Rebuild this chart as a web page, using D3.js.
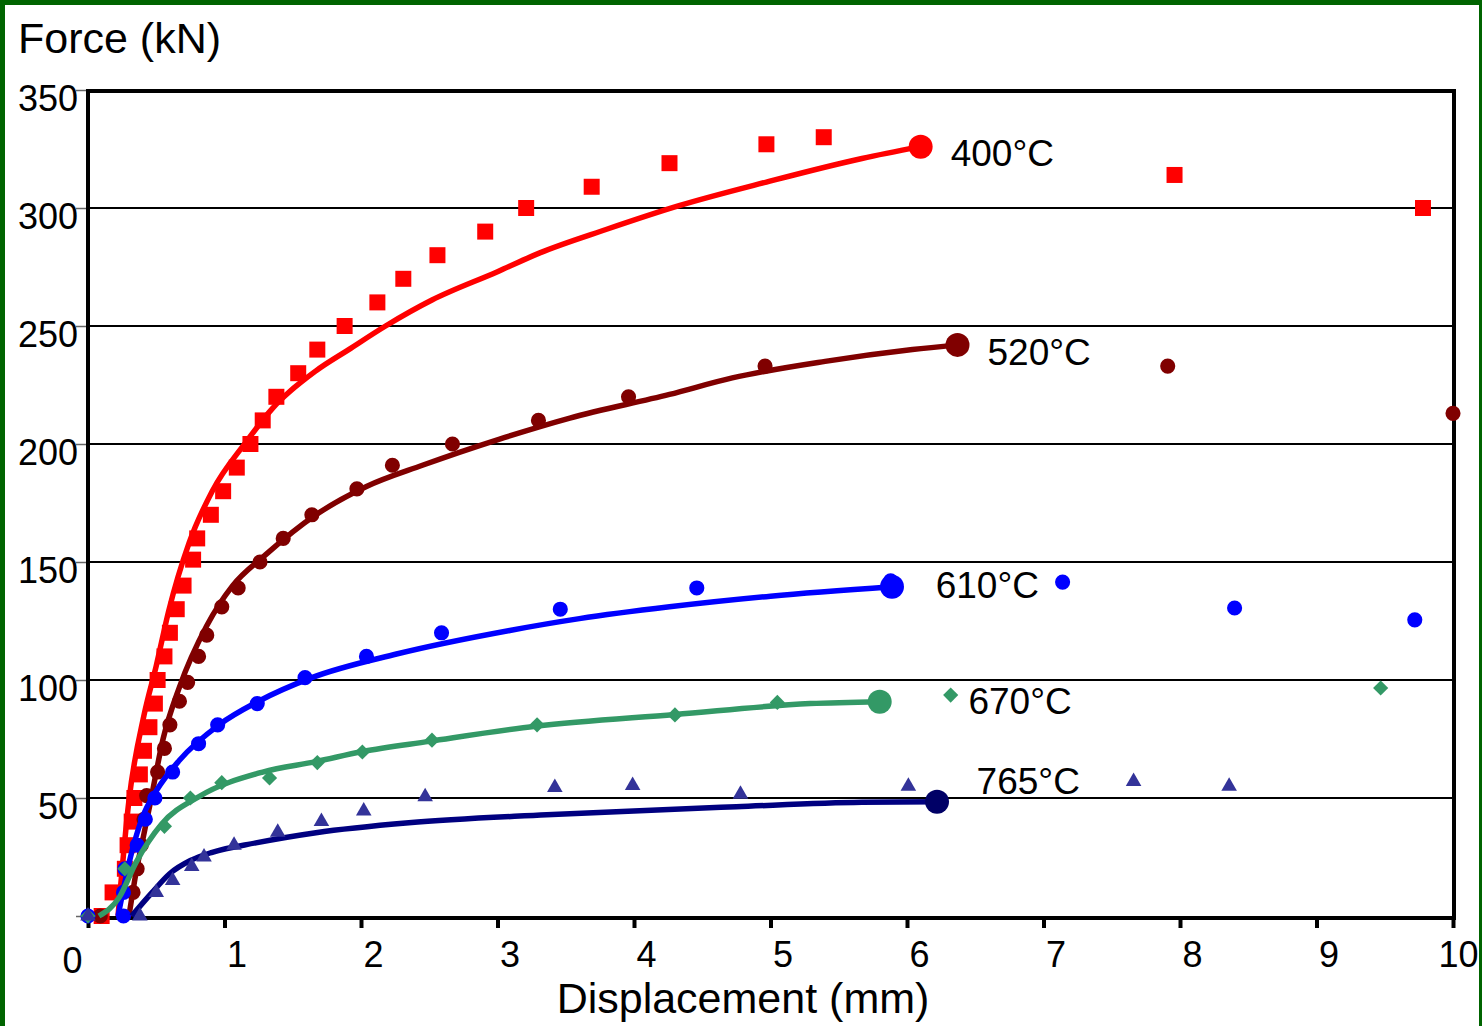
<!DOCTYPE html>
<html lang="en">
<head>
<meta charset="UTF-8">
<title>Force - Displacement</title>
<script src="https://cdn.jsdelivr.net/npm/d3@7"></script>
<style>
body { margin: 0; background: #fff; }
svg { display: block; font-family: "Liberation Sans", Arial, sans-serif; }
</style>
</head>
<body>
<svg id="chart" width="1482" height="1026"></svg>
<script>
// axis settings
const xTicks = [0, 1, 2, 3, 4, 5, 6, 7, 8, 9, 10]
const yTicks = [0, 50, 100, 150, 200, 250, 300, 350]

// 400°C : measured squares + fitted line
const pts400 = [[0.1,0],[0.18,10],[0.27,20],[0.29,30],[0.32,40],[0.34,50],[0.38,60],[0.41,70],[0.45,80],[0.49,90],
  [0.51,100],[0.56,110],[0.60,120],[0.65,130],[0.70,140],[0.77,151],[0.80,160],[0.90,170],[0.99,180],[1.09,190],
  [1.19,200],[1.28,210],[1.38,220],[1.54,230],[1.68,240],[1.88,250],[2.12,260],[2.31,270],[2.56,280],[2.91,290],
  [3.21,300],[3.69,309],[4.26,319],[4.97,327],[5.39,330],[7.96,314],[9.78,300]]
const fit400 = [[0.22,0],[0.30,49],[0.41,85],[0.50,106],[0.59,129],[0.74,158],[0.91,180],[1.16,201],[1.35,215],
  [1.67,231],[1.91,240],[2.18,250],[2.52,261],[3.0,273],[3.31,281],[3.80,291],[4.33,301],[4.97,311],[5.67,321],[6.10,326]]

// 520°C
const pts520 = [[0.09,0],[0.33,10],[0.36,20],[0.39,30],[0.41,41],[0.43,51],[0.51,61],[0.56,71],[0.60,81],[0.67,91],
  [0.73,99],[0.81,110],[0.87,119],[0.98,131],[1.10,139],[1.26,150],[1.43,160],[1.64,170],[1.97,181],[2.23,191],
  [2.67,200],[3.30,210],[3.96,220],[4.96,233],[7.91,233],[10.0,213]]
const fit520 = [[0.30,0],[0.36,21],[0.40,32],[0.46,49],[0.55,75],[0.67,97],[0.87,123],[1.06,140],[1.30,153],[1.67,170],
  [2.04,182],[2.45,191],[3.01,202],[3.53,211],[4.26,221],[4.72,228],[5.4,235],[6.04,240],[6.37,242]]

// 610°C
const pts610 = [[0,0],[0.26,0],[0.26,10],[0.27,20],[0.36,30],[0.42,41],[0.49,50],[0.62,61],[0.81,73],[0.95,81],
  [1.24,90],[1.59,101],[2.04,110],[2.59,120],[3.46,130],[4.46,139],[5.88,142],[7.14,141.5],[8.40,130.5],[9.72,125.5]]
const fit610 = [[0.22,0],[0.32,27],[0.40,42],[0.50,53],[0.67,66],[0.96,81],[1.25,91],[1.64,101],[2.26,111],[3.09,121],
  [3.60,126],[4.26,131],[5.0,135.5],[5.89,139.5]]

// 670°C
const pts670 = [[0,0],[0.27,20],[0.56,38],[0.75,50],[0.98,56.5],[1.33,58.5],[1.68,65],[2.01,69.5],[2.52,74.5],
  [3.29,81],[4.30,85.2],[5.05,90.5],[6.32,93.6],[9.47,96.6]]
const fit670 = [[0.08,0],[0.23,8],[0.35,22.5],[0.54,39],[0.81,50.5],[1.28,61],[1.67,65.4],[2.01,69.7],[2.50,74],
  [3.28,80.4],[4.30,85.4],[5.29,90],[5.80,90.8]]

// 765°C
const pts765 = [[0,0],[0.38,0],[0.50,10],[0.62,15],[0.76,21],[0.85,25],[1.07,30],[1.39,35.5],[1.71,40],[2.02,44.5],
  [2.47,50.5],[3.42,54.5],[3.99,55.3],[4.78,51.6],[6.01,55],[7.66,57],[8.36,55]]
const fit765 = [[0.32,0],[0.47,10],[0.60,18],[0.75,23.5],[0.91,27],[1.23,31],[1.67,35.3],[2.35,39.5],[3.36,42.9],
  [4.75,46.3],[5.67,48.2],[6.22,48.4]]

// label text and anchor (data coords, text baseline)
const labels = ['400°C', '520°C', '610°C', '670°C', '765°C']
const labelPos = [[6.32,318],[6.59,233.5],[6.21,134.7],[6.45,85.6],[6.51,51.7]]

const series = [
  { pts: pts400, fit: fit400, line: '#ff0000', mark: '#ff0000', end: '#ff0000', sym: d3.symbolSquare, size: 256, rot: 0 },
  { pts: pts520, fit: fit520, line: '#800000', mark: '#800000', end: '#800000', sym: d3.symbolCircle, size: 180, rot: 0 },
  { pts: pts610, fit: fit610, line: '#0000ff', mark: '#0000ff', end: '#0000ff', sym: d3.symbolCircle, size: 180, rot: 0 },
  { pts: pts670, fit: fit670, line: '#339966', mark: '#339966', end: '#339966', sym: d3.symbolSquare, size: 115, rot: 45 },
  { pts: pts765, fit: fit765, line: '#000080', mark: '#333399', end: '#000066', sym: d3.symbolTriangle, size: 105, rot: 0 },
]

const svg = d3.select('#chart')
const x = d3.scaleLinear().domain([0, 10]).range([88, 1453])
const y = d3.scaleLinear().domain([0, 350]).range([916, 90])

// green frame
svg.append('rect').attr('x', 0).attr('y', 0).attr('width', 1482).attr('height', 5).attr('fill', '#006400')
svg.append('rect').attr('x', 0).attr('y', 0).attr('width', 5).attr('height', 1026).attr('fill', '#006400')
svg.append('rect').attr('x', 1479).attr('y', 0).attr('width', 3).attr('height', 1026).attr('fill', '#006400')

// grid
svg.append('g').selectAll('line')
  .data(yTicks.filter(v => v > 0 && v < 350))
  .join('line')
  .attr('x1', x(0)).attr('x2', x(10))
  .attr('y1', d => y(d)).attr('y2', d => y(d))
  .attr('stroke', '#000').attr('stroke-width', 2)

// y axis
const gy = svg.append('g')
  .attr('transform', `translate(${x(0)},0)`)
  .call(d3.axisLeft(y).tickValues(yTicks).tickSize(12).tickFormat(d => d === 0 ? '' : d))
gy.select('.domain').remove()
gy.selectAll('.tick line').attr('stroke', '#666').attr('stroke-width', 1.5)
gy.selectAll('.tick text')
  .attr('x', -10).attr('dy', 0).attr('y', 20)
  .attr('font-size', 36).attr('fill', '#000')
  .attr('font-family', '"Liberation Sans", Arial, sans-serif')

// x axis
const gx = svg.append('g')
  .attr('transform', `translate(0,${y(0) + 2})`)
  .call(d3.axisBottom(x).tickValues(xTicks).tickSize(10))
gx.select('.domain').remove()
gx.selectAll('.tick line').attr('stroke', '#000').attr('stroke-width', 4)
gx.selectAll('.tick text')
  .attr('dy', 0)
  .attr('x', d => d === 0 ? -16 : (d === 10 ? 5 : 12))
  .attr('y', d => d === 0 ? 55 : 49)
  .attr('font-size', 36).attr('fill', '#000')
  .attr('font-family', '"Liberation Sans", Arial, sans-serif')

// plot frame
svg.append('rect')
  .attr('x', x(0)).attr('y', y(350) + 1)
  .attr('width', x(10) - x(0) + 1).attr('height', y(0) - y(350) + 1)
  .attr('fill', 'none').attr('stroke', '#000').attr('stroke-width', 4)

// series
const line = d3.line().x(d => x(d[0])).y(d => y(d[1])).curve(d3.curveMonotoneX)

series.forEach(s => {
  const g = svg.append('g')
  g.append('path').datum(s.fit)
    .attr('d', line)
    .attr('fill', 'none').attr('stroke', s.line).attr('stroke-width', 5.5)
    .attr('stroke-linejoin', 'round')
  g.selectAll('path.m').data(s.pts).join('path')
    .attr('class', 'm')
    .attr('d', d3.symbol().type(s.sym).size(s.size))
    .attr('transform', d => `translate(${x(d[0])},${y(d[1])}) rotate(${s.rot})`)
    .attr('fill', s.mark)
  const last = s.fit[s.fit.length - 1]
  g.append('circle')
    .attr('cx', x(last[0])).attr('cy', y(last[1])).attr('r', 12)
    .attr('fill', s.end)
})

// temperature labels
svg.append('g').selectAll('text')
  .data(labels)
  .join('text')
  .attr('x', (d, i) => x(labelPos[i][0]))
  .attr('y', (d, i) => y(labelPos[i][1]))
  .attr('font-size', 37)
  .text(d => d)

// axis titles
svg.append('text').attr('x', 18).attr('y', 53).attr('font-size', 43).text('Force (kN)')
svg.append('text').attr('x', 743).attr('y', 1013).attr('text-anchor', 'middle').attr('font-size', 43).text('Displacement (mm)')
</script>
</body>
</html>
